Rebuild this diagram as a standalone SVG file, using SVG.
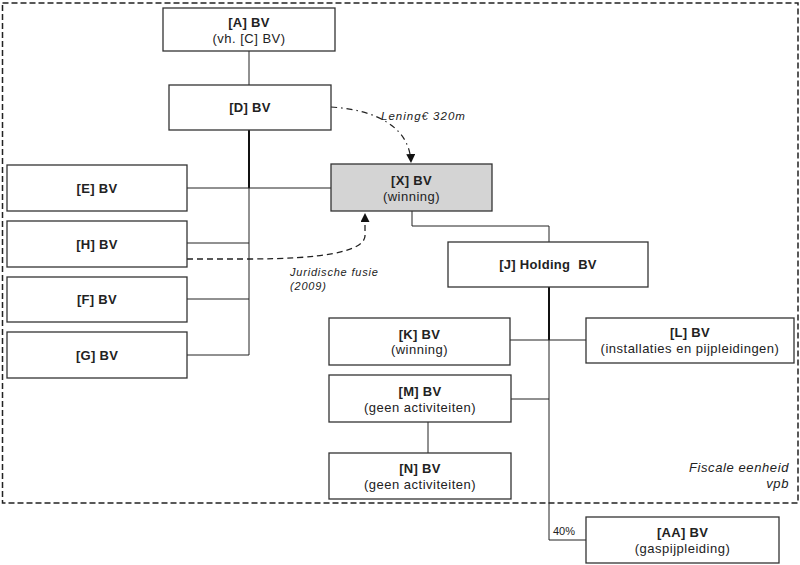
<svg xmlns="http://www.w3.org/2000/svg" width="800" height="565" viewBox="0 0 800 565">
<defs>
<style>
.box{fill:#fff;stroke:#333;stroke-width:1.3}
.gray{fill:#d4d4d4}
.ln{fill:none;stroke:#222;stroke-width:1}
.thick{fill:none;stroke:#111;stroke-width:2}
.t{font-family:"Liberation Sans",Arial,sans-serif;font-size:13px;font-weight:bold;fill:#222;text-anchor:middle;letter-spacing:0.3px}
.s{font-family:"Liberation Sans",Arial,sans-serif;font-size:13px;fill:#222;text-anchor:middle;letter-spacing:0.5px}
.i{font-family:"Liberation Sans",Arial,sans-serif;font-size:11px;font-style:italic;fill:#222;letter-spacing:0.8px}
.fe{font-family:"Liberation Sans",Arial,sans-serif;font-size:13px;font-style:italic;fill:#222;text-anchor:end;letter-spacing:0.6px}
</style>
<marker id="arr" markerUnits="userSpaceOnUse" markerWidth="9" markerHeight="9" refX="9" refY="4.5" orient="auto">
<path d="M0,0 L9,4.5 L0,9 z" fill="#111"/>
</marker>
</defs>
<rect x="2.5" y="3" width="795.5" height="500" fill="none" stroke="#222" stroke-width="1.5" stroke-dasharray="6,3"/>
<g id="connectors">
<path class="ln" d="M249,51 V85"/>
<path class="thick" d="M249,130 V188"/>
<path class="ln" d="M249,188 V355"/>
<path class="ln" d="M187,188 H331"/>
<path class="ln" d="M187,243 H249"/>
<path class="ln" d="M187,299 H249"/>
<path class="ln" d="M187,355 H249"/>
<path class="ln" d="M412,211 V226 H549 V242"/>
<path class="thick" d="M549,287 V340"/>
<path class="ln" d="M549,340 V540 H586"/>
<path class="ln" d="M510,340 H586"/>
<path class="ln" d="M511,399 H549"/>
<path class="ln" d="M428,422 V453"/>
<path d="M331,107 C378,110 410,128 411,163" fill="none" stroke="#222" stroke-width="1.2" stroke-dasharray="6,4,1.5,4" marker-end="url(#arr)"/>
<path d="M187,259 L250,259 C320,259 364,252 365,236 L365,213" fill="none" stroke="#222" stroke-width="1.3" stroke-dasharray="6,4" marker-end="url(#arr)"/>
</g>
<text class="i" x="381" y="120" style="font-size:11.5px;letter-spacing:1px">Lening€ 320m</text>
<text class="i" x="290" y="276">Juridische fusie</text>
<text class="i" x="290" y="290">(2009)</text>
<text class="fe" x="789" y="472">Fiscale eenheid</text>
<text class="fe" x="789" y="488">vpb</text>
<text class="i" x="553" y="535" style="font-style:normal;letter-spacing:0">40%</text>
<g id="A"><rect class="box" x="163" y="8" width="172" height="43"/><text class="t" x="249" y="27">[A] BV</text><text class="s" x="249" y="43">(vh. [C] BV)</text></g>
<g id="D"><rect class="box" x="169" y="85" width="162" height="45"/><text class="t" x="250" y="112">[D] BV</text></g>
<g id="X"><rect class="box gray" x="331" y="164" width="161" height="47"/><text class="t" x="411.5" y="185">[X] BV</text><text class="s" x="411.5" y="201">(winning)</text></g>
<g id="E"><rect class="box" x="7" y="165" width="180" height="46"/><text class="t" x="97" y="193">[E] BV</text></g>
<g id="H"><rect class="box" x="7" y="221" width="180" height="46"/><text class="t" x="97" y="249">[H] BV</text></g>
<g id="F"><rect class="box" x="7" y="277" width="180" height="45"/><text class="t" x="97" y="304">[F] BV</text></g>
<g id="G"><rect class="box" x="7" y="332" width="180" height="46"/><text class="t" x="97" y="360">[G] BV</text></g>
<g id="J"><rect class="box" x="448" y="242" width="200" height="45"/><text class="t" x="548" y="269" xml:space="preserve">[J] Holding  BV</text></g>
<g id="K"><rect class="box" x="329" y="318" width="181" height="47"/><text class="t" x="419.5" y="339">[K] BV</text><text class="s" x="419.5" y="354">(winning)</text></g>
<g id="L"><rect class="box" x="586" y="318" width="208" height="45"/><text class="t" x="690" y="337">[L] BV</text><text class="s" x="690" y="353">(installaties en pijpleidingen)</text></g>
<g id="M"><rect class="box" x="329" y="375" width="182" height="47"/><text class="t" x="420" y="396">[M] BV</text><text class="s" x="420" y="412">(geen activiteiten)</text></g>
<g id="N"><rect class="box" x="329" y="453" width="182" height="46"/><text class="t" x="420" y="473">[N] BV</text><text class="s" x="420" y="489">(geen activiteiten)</text></g>
<g id="AA"><rect class="box" x="586" y="517" width="193" height="46"/><text class="t" x="682.5" y="537">[AA] BV</text><text class="s" x="682.5" y="553">(gaspijpleiding)</text></g>
</svg>
